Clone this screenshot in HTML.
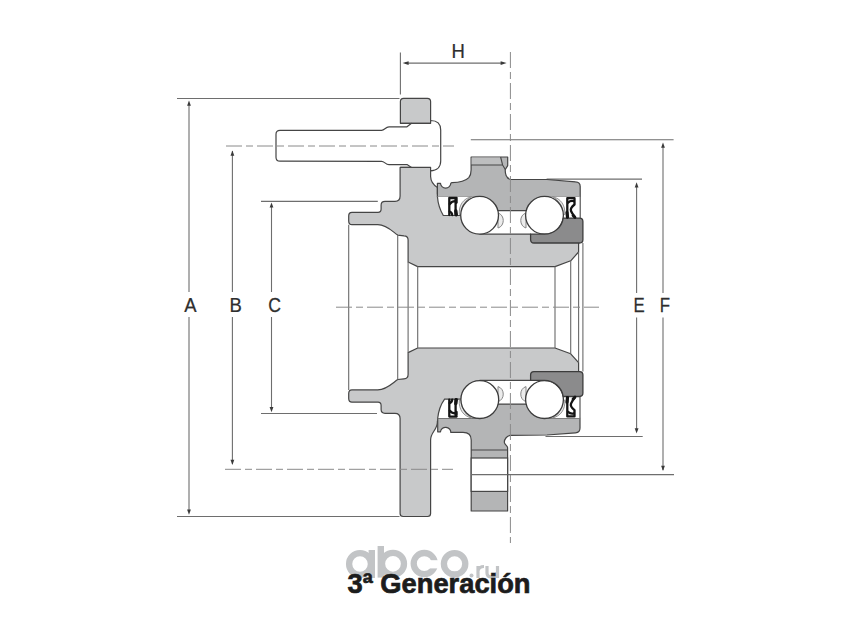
<!DOCTYPE html>
<html><head><meta charset="utf-8">
<style>
html,body{margin:0;padding:0;background:#fff;width:845px;height:634px;overflow:hidden}
svg{display:block}
text{font-family:"Liberation Sans",sans-serif}
</style></head>
<body>
<svg width="845" height="634" viewBox="0 0 845 634">
<rect width="845" height="634" fill="#fff"/>

<!-- watermark -->
<g fill="none" stroke="#c2c4c6" stroke-width="6.3">
  <circle cx="360" cy="564" r="10.9"/>
  <circle cx="393" cy="563.8" r="11"/>
  <circle cx="424.3" cy="563.6" r="10.6"/>
  <circle cx="454.6" cy="563.8" r="10.7"/>
</g>
<rect x="426" y="560.2" width="13" height="8.2" fill="#fff"/>
<g fill="#c2c4c6">
  <rect x="368.6" y="550" width="6.4" height="28"/>
  <rect x="377.6" y="546" width="6.4" height="31.6"/>
  <circle cx="471.5" cy="575.5" r="2"/>
</g>
<g fill="none" stroke="#c2c4c6" stroke-width="3.2">
  <path d="M478,578 L478,566 M478,571 Q479,566.5 484,566.5"/>
  <path d="M487,566 L487,573 Q487,577 491.5,577 Q497,577 497,572 M497.5,566 L497.5,578"/>
</g>

<!-- dimension lines -->
<g stroke="#6e6e6e" stroke-width="1.1" fill="none">
  <path d="M177,98.5 H399.5 M177,516.5 H399.5"/>
  <path d="M189,104 V292 M189,317 V511"/>
  <path d="M232.4,151 V292 M232.4,317 V464"/>
  <path d="M261,201.4 H377.8 M261,413.5 H377"/>
  <path d="M271.5,206 V292 M271.5,317 V409"/>
  <path d="M546.6,179.1 H642 M545.5,436.5 H642.7"/>
  <path d="M636.6,186 V293 M636.6,317.5 V431"/>
  <path d="M470.8,139.8 H673.6 M471,474.6 H674"/>
  <path d="M663,146 V293 M663,317.5 V470"/>
  <path d="M400.4,52.4 V94.6"/>
  <path d="M405,63.1 H503"/>
</g>
<g fill="#3a3a3a">
  <path d="M189,100.6 L187.1,105.8 L190.9,105.8 Z"/>
  <path d="M189,514.8 L187.1,509.59999999999997 L190.9,509.59999999999997 Z"/>
  <path d="M232.4,150.6 L230.5,155.79999999999998 L234.3,155.79999999999998 Z"/>
  <path d="M232.4,465 L230.5,459.8 L234.3,459.8 Z"/>
  <path d="M271.5,202.4 L269.6,207.6 L273.4,207.6 Z"/>
  <path d="M271.5,412.2 L269.6,407.0 L273.4,407.0 Z"/>
  <path d="M636.6,182.3 L634.7,187.5 L638.5,187.5 Z"/>
  <path d="M636.6,433.5 L634.7,428.3 L638.5,428.3 Z"/>
  <path d="M663,142.5 L661.1,147.7 L664.9,147.7 Z"/>
  <path d="M663,471 L661.1,465.8 L664.9,465.8 Z"/>
  <path d="M402.6,63.1 L408.6,61.2 L408.6,65 Z"/>
  <path d="M506.6,63.1 L500.6,61.2 L500.6,65 Z"/>
</g>

<!-- labels -->
<g fill="#2e2e2e" font-size="21" stroke="#2e2e2e" stroke-width="0.25">
  <text x="190.5" y="312" text-anchor="middle" transform="translate(190.5 0) scale(0.88 1) translate(-190.5 0)">A</text>
  <text x="235.6" y="312" text-anchor="middle" transform="translate(235.6 0) scale(0.88 1) translate(-235.6 0)">B</text>
  <text x="274.7" y="312" text-anchor="middle" transform="translate(274.7 0) scale(0.84 1) translate(-274.7 0)">C</text>
  <text x="639" y="312" text-anchor="middle" transform="translate(639 0) scale(0.8 1) translate(-639 0)">E</text>
  <text x="665" y="312" text-anchor="middle" transform="translate(665 0) scale(0.8 1) translate(-665 0)">F</text>
  <text x="458.2" y="58.5" text-anchor="middle" transform="translate(458.2 0) scale(0.88 1) translate(-458.2 0)">H</text>
</g>

<!-- HUB top half -->
<g stroke="#454545" stroke-width="1.2" stroke-linejoin="round">
  <path fill="#c8c9ca" d="M400.1,196 L400.1,167.4 L430.6,167.4 L430.6,176.5 C430.8,181.5 433.5,185 437.4,187.5 L437.4,194 L578.6,194 L578.6,252 L570.7,260.8 L555,266.6 L417.7,266.6 L408.1,262 L408.1,240 C408.1,237 406,235.8 404,235.8 L397.7,235.1 C393,232 387,225 377.8,224.7 L352,224.7 Q348.7,224.7 348.7,221 L348.7,216 Q348.7,212.4 352,212.4 L378,212.4 Q381.1,212.4 381.1,209 L381.1,205 Q381.1,201.3 385,201.3 L395,201.3 Q400.1,201.3 400.1,196 Z"/>
  <path fill="#c8c9ca" d="M400.1,418.6 Q400.1,413.3 395,413.3 L385,413.3 Q381.1,413.3 381.1,409.6 L381.1,405.6 Q381.1,402.2 378,402.2 L352,402.2 Q348.7,402.2 348.7,398.6 L348.7,393.6 Q348.7,389.9 352,389.9 L377.8,389.9 C387,389.6 393,382.6 397.7,379.5 L404,378.8 C406,378.8 408.1,377.6 408.1,374.6 L408.1,352.6 L417.7,348 L555,348 L570.7,353.8 L578.6,362.6 L578.6,421 L437.4,421 L437.4,422 C437.4,430 430.6,432 430.6,440 L430.6,513.5 Q430.6,516.5 427.6,516.5 L403.1,516.5 Q400.1,516.5 400.1,513.5 Z"/>
  <path fill="#c8c9ca" d="M400.4,123.3 L400.4,101.5 Q400.4,98.3 403.6,98.3 L427.4,98.3 Q430.6,98.3 430.6,101.5 L430.6,123.3 Z"/>
</g>
<!-- bore lines -->
<g stroke="#6a6a6a" stroke-width="1.1" fill="none">
  <path d="M348.7,224.7 V389.9 M397.7,235.1 V379.5 M408.1,262 V352.6 M417.7,266.6 V348 M555,266.6 V348 M570.7,260.8 V353.8 M578.6,252 V362.6 M582.9,243 V371.6"/>
</g>

<!-- stud -->
<path fill="#fff" stroke="#454545" stroke-width="1.2" stroke-linejoin="round" d="M276,134.2 Q276,130.3 280,130.3 L381.6,130.3 C384.5,130.3 385.5,126.8 389,126.8 L407,126.8 L411.5,123.3 L430.6,123.3 L430.6,120.5 C437,120.5 440.7,124 440.7,130 L440.7,161 C440.7,167 437,170.8 430.6,170.8 L430.6,167.4 L411.5,167.4 L407,164.6 L389,164.6 C385.5,164.6 384.5,161.4 381.6,161.4 L280,161.2 Q276,161.2 276,157.2 Z"/>
<path stroke="#474747" stroke-width="1.1" fill="none" d="M400.4,123.3 H411.5 M400.4,167.4 H411.5"/>

<!-- outer ring top -->
<g stroke="#454545" stroke-width="1.2" stroke-linejoin="round">
  <path fill="#b4b5b6" d="M437.4,196.5 L437.4,183.3 L440.5,183.3 A5,4.6 0 0 0 450.8,183.3 L452,182.6 C460,182.5 465.5,181 468.8,177.6 C470.7,175.3 471.1,173 471.1,170 L471.1,157 L507.7,157 L507.7,165.6 L505.3,169.5 C505,173 506,178.6 510.5,179.3 L547,179.5 L575.5,181.8 Q580.2,182 580.2,186.5 L580.2,196.5 L544.5,196.5 L544.5,210.6 L479.6,210.6 L479.6,196.5 Z"/>
  <path fill="#b4b5b6" d="M437.7,418.3 L479.8,418.3 L479.8,404 L544.5,404 L544.5,418.3 L580,418.3 L580,428 Q580,432.6 575.5,432.8 L547,435 L510.5,435.3 C507,435.8 504.3,439 504.3,442.3 C504.3,444.5 507.4,445.5 507.6,447.5 L507.6,511 L471.2,511 L471.2,440 C471.2,435 468,432.4 463,432.4 L450.8,432.4 A5,4.6 0 0 0 440.5,431.8 L437.7,431.8 Z"/>
</g>
<path d="M471.6,157.6 H500.6 L502.5,165 H471.6 Z" fill="#bdbebf"/>
<g stroke="#474747" stroke-width="1.1" fill="none">
  <path d="M471,165 H502.5 M500.6,157 L502.6,165 L505.3,169.5"/>
</g>
<rect x="471.2" y="458" width="36.4" height="33.4" fill="#fff" stroke="#474747" stroke-width="1.2"/>
<path stroke="#474747" stroke-width="1.2" d="M471.2,450 H507.6"/>
<path stroke="#6e6e6e" stroke-width="1.1" d="M471.2,474.6 H507.6"/>

<!-- gaps top -->
<g fill="#fff" stroke="none">
  <path d="M437.4,196.5 L480,196.5 L480,215.5 L443.3,215.5 C440,210 438,204 437.4,196.5 Z"/>
  <rect x="479.5" y="210.6" width="65" height="23.6"/>
  <rect x="544.5" y="196.5" width="35.7" height="21.6"/>
  <path d="M437.7,418.3 L480,418.3 L480,399.1 L444.6,399.1 C441,404 438.5,411 437.7,418.3 Z"/>
  <rect x="479.5" y="380.4" width="65" height="23.6"/>
  <rect x="544.5" y="396.5" width="35.7" height="21.8"/>
</g>
<g stroke="#474747" stroke-width="1.2" fill="none">
  <path d="M437.4,196.5 C438,204 440,210 443.3,215.5 H462"/>
  <path d="M479.5,210.6 H526 M479.5,234.2 H531"/>
  <path d="M437.7,418.3 C438.5,411 441,404 444.6,399.1 H462"/>
  <path d="M479.5,404 H526 M479.5,380.4 H531"/>
</g>
<!-- cage arcs -->
<g stroke="#858585" stroke-width="1" fill="#ececec">
  <path d="M498,213 C505,215 505,226 498,228 Z"/>
  <path d="M526,213 C519,215 519,226 526,228 Z"/>
  <path d="M498,386.6 C505,388.6 505,399.6 498,401.6 Z"/>
  <path d="M526,386.6 C519,388.6 519,399.6 526,401.6 Z"/>
</g>
<g stroke="#8a8a8a" stroke-width="0.9" fill="#e6e6e6">
  <path d="M471.5,196.6 C463.5,198.5 458.6,205 459.3,214.5 L461.2,214.5 C461.5,206 465.5,200 471.5,196.6 Z"/>
  <path d="M552.6,196.6 C560.6,198.5 565.5,205 564.8,214.5 L562.9,214.5 C562.6,206 558.6,200 552.6,196.6 Z"/>
  <path d="M471.5,418 C463.5,416.1 458.6,409.6 459.3,400.1 L461.2,400.1 C461.5,408.6 465.5,414.6 471.5,418 Z"/>
  <path d="M552.6,418 C560.6,416.1 565.5,409.6 564.8,400.1 L562.9,400.1 C562.6,408.6 558.6,414.6 552.6,418 Z"/>
</g>
<!-- balls -->
<g fill="#fff" stroke="#3c3c3c" stroke-width="1.3">
  <circle cx="479.6" cy="215.3" r="18.9"/>
  <circle cx="544.5" cy="215.3" r="18.9"/>
  <circle cx="479.8" cy="399.6" r="18.9"/>
  <circle cx="544.5" cy="399.6" r="18.9"/>
</g>
<!-- inner rings -->
<g fill="#8b8b8c" stroke="#3c3c3c" stroke-width="1.3" stroke-linejoin="round">
  <path d="M530.6,234.2 L544.5,234.2 A18.9,18.9 0 0 0 563.2,218.1 L579.6,218.1 Q582.9,218.1 582.9,221.5 L582.9,239.8 Q582.9,243 579.6,243 L534,243 Q530.6,243 530.6,239.5 Z"/>
  <path d="M530.6,380.4 L544.5,380.4 A18.9,18.9 0 0 1 563.2,396.5 L579.6,396.5 Q582.9,396.5 582.9,393.1 L582.9,374.8 Q582.9,371.6 579.6,371.6 L534,371.6 Q530.6,371.6 530.6,375.1 Z"/>
</g>
<!-- seals -->
<g stroke="#141414" stroke-width="2.3" fill="none" stroke-linejoin="round" stroke-linecap="round">
  <path d="M449.3,215 V198 H456.6"/>
  <path d="M455.6,199 V215"/>
  <path d="M449.8,204 Q452,201 456,201.2"/>
  <path d="M449.6,211.5 Q452,212.5 452.2,215"/>
  <path d="M456.3,199.5 V202.5" stroke-width="2.8"/>
  <path d="M455.8,211 L456.3,214.8" stroke-width="3.4"/>
</g>
<g stroke="#141414" stroke-width="2.3" fill="none" stroke-linejoin="round" stroke-linecap="round">
  <path d="M567.3,217.5 V198.2 H574.5 V204.5 Q570,208 571,211 Q572,213.5 575,217"/>
  <path d="M568,202.8 Q570.5,200.3 573.8,201.2"/>
  <path d="M567,212.5 L567.5,217" stroke-width="3.2"/>
  <path d="M573,215.5 L575,217.5" stroke-width="2.8"/>
</g>
<g transform="matrix(1 0 0 -1 0 614.6)" stroke="#141414" stroke-width="2.3" fill="none" stroke-linejoin="round" stroke-linecap="round">
  <path d="M449.3,215 V198 H456.6"/>
  <path d="M455.6,199 V215"/>
  <path d="M449.8,204 Q452,201 456,201.2"/>
  <path d="M449.6,211.5 Q452,212.5 452.2,215"/>
  <path d="M456.3,199.5 V202.5" stroke-width="2.8"/>
  <path d="M455.8,211 L456.3,214.8" stroke-width="3.4"/>
</g>
<g transform="matrix(1 0 0 -1 0 614.6)" stroke="#141414" stroke-width="2.3" fill="none" stroke-linejoin="round" stroke-linecap="round">
  <path d="M567.3,217.5 V198.2 H574.5 V204.5 Q570,208 571,211 Q572,213.5 575,217"/>
  <path d="M568,202.8 Q570.5,200.3 573.8,201.2"/>
  <path d="M567,212.5 L567.5,217" stroke-width="3.2"/>
  <path d="M573,215.5 L575,217.5" stroke-width="2.8"/>
</g>
<path stroke="#474747" stroke-width="1.1" d="M580.2,196.5 V218.1 M580,396.5 V418.3"/>
<!-- center lines -->
<g stroke="#8a8a8a" stroke-width="1" fill="none" stroke-dasharray="16 4 7 4">
  <path d="M336,307.2 H599"/>
  <path d="M226,146 H454"/>
  <path d="M225,469.3 H453"/>
  <path d="M510.4,52 V543"/>
</g>

<!-- title -->
<text x="347.5" y="593" font-size="28" font-weight="bold" fill="#1c1c1c" stroke="#1c1c1c" stroke-width="0.7" transform="translate(347.5 0) scale(0.975 1) translate(-347.5 0)">3ª Generación</text>
</svg>
</body></html>
